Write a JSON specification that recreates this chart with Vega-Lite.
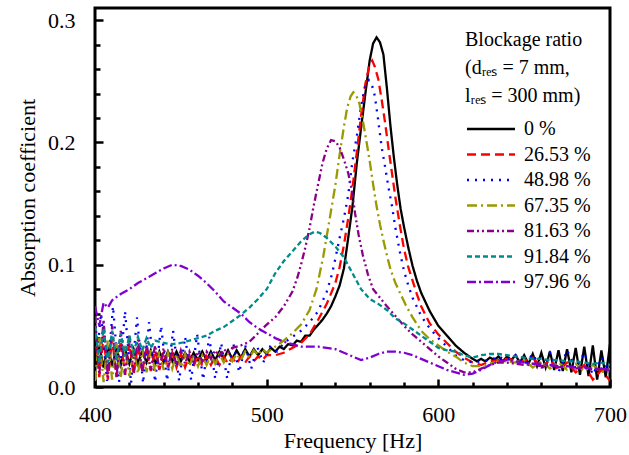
{
"$schema": "https://vega.github.io/schema/vega-lite/v6.json",
"width": 515, "height": 379,
"autosize": {"type": "none"},
"padding": {"left": 95, "top": 8, "right": 19, "bottom": 68},
"background": "white",
"config": {"font": "Liberation Serif", "view": {"stroke": "black", "strokeWidth": 3}},
"data": {"values": [
{"s":"0 %","f":400,"a":0.018},{"s":"0 %","f":402.5,"a":0.034},{"s":"0 %","f":405,"a":0.016},{"s":"0 %","f":407.5,"a":0.033},{"s":"0 %","f":410,"a":0.017},{"s":"0 %","f":412.5,"a":0.032},{"s":"0 %","f":415,"a":0.018},{"s":"0 %","f":417.5,"a":0.031},{"s":"0 %","f":420,"a":0.019},{"s":"0 %","f":422.5,"a":0.031},{"s":"0 %","f":425,"a":0.019},{"s":"0 %","f":427.5,"a":0.030},{"s":"0 %","f":430,"a":0.020},{"s":"0 %","f":432.5,"a":0.030},{"s":"0 %","f":435,"a":0.019},{"s":"0 %","f":437.5,"a":0.029},{"s":"0 %","f":440,"a":0.020},{"s":"0 %","f":442.5,"a":0.029},{"s":"0 %","f":445,"a":0.021},{"s":"0 %","f":447.5,"a":0.029},{"s":"0 %","f":450,"a":0.021},{"s":"0 %","f":452.5,"a":0.028},{"s":"0 %","f":455,"a":0.021},{"s":"0 %","f":457.5,"a":0.028},{"s":"0 %","f":460,"a":0.022},{"s":"0 %","f":462.5,"a":0.029},{"s":"0 %","f":465,"a":0.022},{"s":"0 %","f":467.5,"a":0.029},{"s":"0 %","f":470,"a":0.022},{"s":"0 %","f":472.5,"a":0.029},{"s":"0 %","f":475,"a":0.023},{"s":"0 %","f":477.5,"a":0.030},{"s":"0 %","f":480,"a":0.023},{"s":"0 %","f":482.5,"a":0.030},{"s":"0 %","f":485,"a":0.024},{"s":"0 %","f":487.5,"a":0.031},{"s":"0 %","f":490,"a":0.025},{"s":"0 %","f":492.5,"a":0.031},{"s":"0 %","f":495,"a":0.026},{"s":"0 %","f":497.5,"a":0.031},{"s":"0 %","f":500,"a":0.027},{"s":"0 %","f":502.5,"a":0.032},{"s":"0 %","f":505,"a":0.029},{"s":"0 %","f":507.5,"a":0.033},{"s":"0 %","f":510,"a":0.031},{"s":"0 %","f":512.5,"a":0.035},{"s":"0 %","f":515,"a":0.034},{"s":"0 %","f":517.5,"a":0.038},{"s":"0 %","f":520,"a":0.037},{"s":"0 %","f":522.5,"a":0.042},{"s":"0 %","f":525,"a":0.042},{"s":"0 %","f":527.5,"a":0.047},{"s":"0 %","f":530,"a":0.051},{"s":"0 %","f":532.5,"a":0.055},{"s":"0 %","f":535,"a":0.060},{"s":"0 %","f":537.5,"a":0.066},{"s":"0 %","f":540,"a":0.074},{"s":"0 %","f":542.5,"a":0.083},{"s":"0 %","f":545,"a":0.097},{"s":"0 %","f":547.5,"a":0.122},{"s":"0 %","f":550,"a":0.148},{"s":"0 %","f":552.5,"a":0.183},{"s":"0 %","f":555,"a":0.212},{"s":"0 %","f":557.5,"a":0.240},{"s":"0 %","f":560,"a":0.267},{"s":"0 %","f":562,"a":0.281},{"s":"0 %","f":564,"a":0.286},{"s":"0 %","f":566,"a":0.282},{"s":"0 %","f":568,"a":0.272},{"s":"0 %","f":570,"a":0.245},{"s":"0 %","f":572,"a":0.215},{"s":"0 %","f":574,"a":0.189},{"s":"0 %","f":576,"a":0.166},{"s":"0 %","f":578,"a":0.146},{"s":"0 %","f":580,"a":0.131},{"s":"0 %","f":582.5,"a":0.114},{"s":"0 %","f":585,"a":0.099},{"s":"0 %","f":587.5,"a":0.087},{"s":"0 %","f":590,"a":0.077},{"s":"0 %","f":595,"a":0.062},{"s":"0 %","f":600,"a":0.050},{"s":"0 %","f":605,"a":0.042},{"s":"0 %","f":610,"a":0.034},{"s":"0 %","f":615,"a":0.028},{"s":"0 %","f":620,"a":0.023},{"s":"0 %","f":622.5,"a":0.021},{"s":"0 %","f":625,"a":0.023},{"s":"0 %","f":627.5,"a":0.021},{"s":"0 %","f":630,"a":0.024},{"s":"0 %","f":632.5,"a":0.022},{"s":"0 %","f":635,"a":0.025},{"s":"0 %","f":637.5,"a":0.021},{"s":"0 %","f":640,"a":0.025},{"s":"0 %","f":642.5,"a":0.022},{"s":"0 %","f":645,"a":0.026},{"s":"0 %","f":647.5,"a":0.020},{"s":"0 %","f":650,"a":0.026},{"s":"0 %","f":652.5,"a":0.019},{"s":"0 %","f":655,"a":0.027},{"s":"0 %","f":657.5,"a":0.017},{"s":"0 %","f":660,"a":0.028},{"s":"0 %","f":662.5,"a":0.016},{"s":"0 %","f":665,"a":0.029},{"s":"0 %","f":667.5,"a":0.014},{"s":"0 %","f":670,"a":0.030},{"s":"0 %","f":672.5,"a":0.013},{"s":"0 %","f":675,"a":0.031},{"s":"0 %","f":677.5,"a":0.012},{"s":"0 %","f":680,"a":0.032},{"s":"0 %","f":682.5,"a":0.010},{"s":"0 %","f":685,"a":0.033},{"s":"0 %","f":687.5,"a":0.009},{"s":"0 %","f":690,"a":0.034},{"s":"0 %","f":692.5,"a":0.006},{"s":"0 %","f":695,"a":0.030},{"s":"0 %","f":697.5,"a":0.008},{"s":"0 %","f":700,"a":0.035},

{"s":"26.53 %","f":400,"a":0.045},{"s":"26.53 %","f":402.5,"a":0.008},{"s":"26.53 %","f":405,"a":0.042},{"s":"26.53 %","f":407.5,"a":0.006},{"s":"26.53 %","f":410,"a":0.040},{"s":"26.53 %","f":412.5,"a":0.008},{"s":"26.53 %","f":415,"a":0.038},{"s":"26.53 %","f":417.5,"a":0.010},{"s":"26.53 %","f":420,"a":0.036},{"s":"26.53 %","f":422.5,"a":0.010},{"s":"26.53 %","f":425,"a":0.034},{"s":"26.53 %","f":427.5,"a":0.012},{"s":"26.53 %","f":430,"a":0.032},{"s":"26.53 %","f":432.5,"a":0.013},{"s":"26.53 %","f":435,"a":0.030},{"s":"26.53 %","f":437.5,"a":0.014},{"s":"26.53 %","f":440,"a":0.029},{"s":"26.53 %","f":442.5,"a":0.015},{"s":"26.53 %","f":445,"a":0.028},{"s":"26.53 %","f":447.5,"a":0.016},{"s":"26.53 %","f":450,"a":0.027},{"s":"26.53 %","f":452.5,"a":0.016},{"s":"26.53 %","f":455,"a":0.026},{"s":"26.53 %","f":457.5,"a":0.017},{"s":"26.53 %","f":460,"a":0.026},{"s":"26.53 %","f":462.5,"a":0.017},{"s":"26.53 %","f":465,"a":0.025},{"s":"26.53 %","f":467.5,"a":0.018},{"s":"26.53 %","f":470,"a":0.025},{"s":"26.53 %","f":472.5,"a":0.018},{"s":"26.53 %","f":475,"a":0.025},{"s":"26.53 %","f":477.5,"a":0.019},{"s":"26.53 %","f":480,"a":0.024},{"s":"26.53 %","f":482.5,"a":0.019},{"s":"26.53 %","f":485,"a":0.025},{"s":"26.53 %","f":487.5,"a":0.020},{"s":"26.53 %","f":490,"a":0.025},{"s":"26.53 %","f":492.5,"a":0.021},{"s":"26.53 %","f":495,"a":0.025},{"s":"26.53 %","f":497.5,"a":0.022},{"s":"26.53 %","f":500,"a":0.026},{"s":"26.53 %","f":505,"a":0.026},{"s":"26.53 %","f":510,"a":0.028},{"s":"26.53 %","f":515,"a":0.032},{"s":"26.53 %","f":520,"a":0.036},{"s":"26.53 %","f":525,"a":0.043},{"s":"26.53 %","f":530,"a":0.055},{"s":"26.53 %","f":535,"a":0.068},{"s":"26.53 %","f":540,"a":0.085},{"s":"26.53 %","f":542.5,"a":0.098},{"s":"26.53 %","f":545,"a":0.116},{"s":"26.53 %","f":547.5,"a":0.138},{"s":"26.53 %","f":550,"a":0.163},{"s":"26.53 %","f":552.5,"a":0.192},{"s":"26.53 %","f":555,"a":0.222},{"s":"26.53 %","f":557.5,"a":0.248},{"s":"26.53 %","f":560,"a":0.264},{"s":"26.53 %","f":561.5,"a":0.267},{"s":"26.53 %","f":563,"a":0.262},{"s":"26.53 %","f":565,"a":0.252},{"s":"26.53 %","f":567,"a":0.235},{"s":"26.53 %","f":569,"a":0.216},{"s":"26.53 %","f":571,"a":0.195},{"s":"26.53 %","f":573,"a":0.175},{"s":"26.53 %","f":575,"a":0.155},{"s":"26.53 %","f":577.5,"a":0.133},{"s":"26.53 %","f":580,"a":0.113},{"s":"26.53 %","f":582.5,"a":0.098},{"s":"26.53 %","f":585,"a":0.087},{"s":"26.53 %","f":587.5,"a":0.076},{"s":"26.53 %","f":590,"a":0.066},{"s":"26.53 %","f":595,"a":0.052},{"s":"26.53 %","f":600,"a":0.043},{"s":"26.53 %","f":605,"a":0.036},{"s":"26.53 %","f":610,"a":0.029},{"s":"26.53 %","f":615,"a":0.024},{"s":"26.53 %","f":620,"a":0.020},{"s":"26.53 %","f":625,"a":0.018},{"s":"26.53 %","f":630,"a":0.021},{"s":"26.53 %","f":635,"a":0.022},{"s":"26.53 %","f":640,"a":0.023},{"s":"26.53 %","f":645,"a":0.022},{"s":"26.53 %","f":650,"a":0.021},{"s":"26.53 %","f":655,"a":0.024},{"s":"26.53 %","f":660,"a":0.016},{"s":"26.53 %","f":665,"a":0.022},{"s":"26.53 %","f":670,"a":0.014},{"s":"26.53 %","f":675,"a":0.020},{"s":"26.53 %","f":680,"a":0.012},{"s":"26.53 %","f":685,"a":0.018},{"s":"26.53 %","f":690,"a":0.006},{"s":"26.53 %","f":695,"a":0.014},{"s":"26.53 %","f":700,"a":0.005},

{"s":"48.98 %","f":400,"a":0.010},{"s":"48.98 %","f":403.5,"a":0.060},{"s":"48.98 %","f":407,"a":0.005},{"s":"48.98 %","f":410.5,"a":0.066},{"s":"48.98 %","f":414,"a":0.004},{"s":"48.98 %","f":417.5,"a":0.062},{"s":"48.98 %","f":421,"a":0.003},{"s":"48.98 %","f":424.5,"a":0.057},{"s":"48.98 %","f":428,"a":0.003},{"s":"48.98 %","f":431.5,"a":0.053},{"s":"48.98 %","f":435,"a":0.004},{"s":"48.98 %","f":438.5,"a":0.050},{"s":"48.98 %","f":442,"a":0.005},{"s":"48.98 %","f":445.5,"a":0.046},{"s":"48.98 %","f":449,"a":0.005},{"s":"48.98 %","f":452.5,"a":0.041},{"s":"48.98 %","f":456,"a":0.006},{"s":"48.98 %","f":459.5,"a":0.043},{"s":"48.98 %","f":463,"a":0.006},{"s":"48.98 %","f":466.5,"a":0.041},{"s":"48.98 %","f":470,"a":0.007},{"s":"48.98 %","f":473.5,"a":0.036},{"s":"48.98 %","f":477,"a":0.007},{"s":"48.98 %","f":480.5,"a":0.036},{"s":"48.98 %","f":484,"a":0.012},{"s":"48.98 %","f":487.5,"a":0.034},{"s":"48.98 %","f":491,"a":0.015},{"s":"48.98 %","f":494.5,"a":0.033},{"s":"48.98 %","f":498,"a":0.020},{"s":"48.98 %","f":502,"a":0.033},{"s":"48.98 %","f":506,"a":0.029},{"s":"48.98 %","f":510,"a":0.036},{"s":"48.98 %","f":515,"a":0.041},{"s":"48.98 %","f":520,"a":0.046},{"s":"48.98 %","f":525,"a":0.053},{"s":"48.98 %","f":530,"a":0.062},{"s":"48.98 %","f":535,"a":0.078},{"s":"48.98 %","f":538,"a":0.092},{"s":"48.98 %","f":540,"a":0.105},{"s":"48.98 %","f":542.5,"a":0.122},{"s":"48.98 %","f":545,"a":0.138},{"s":"48.98 %","f":547.5,"a":0.157},{"s":"48.98 %","f":550,"a":0.185},{"s":"48.98 %","f":552.5,"a":0.205},{"s":"48.98 %","f":555,"a":0.230},{"s":"48.98 %","f":557.5,"a":0.247},{"s":"48.98 %","f":559.5,"a":0.251},{"s":"48.98 %","f":561.5,"a":0.246},{"s":"48.98 %","f":563,"a":0.238},{"s":"48.98 %","f":565,"a":0.218},{"s":"48.98 %","f":567,"a":0.196},{"s":"48.98 %","f":569,"a":0.180},{"s":"48.98 %","f":571,"a":0.163},{"s":"48.98 %","f":573,"a":0.148},{"s":"48.98 %","f":575,"a":0.130},{"s":"48.98 %","f":577.5,"a":0.111},{"s":"48.98 %","f":580,"a":0.095},{"s":"48.98 %","f":582.5,"a":0.083},{"s":"48.98 %","f":585,"a":0.073},{"s":"48.98 %","f":590,"a":0.058},{"s":"48.98 %","f":595,"a":0.048},{"s":"48.98 %","f":600,"a":0.040},{"s":"48.98 %","f":605,"a":0.033},{"s":"48.98 %","f":610,"a":0.026},{"s":"48.98 %","f":615,"a":0.022},{"s":"48.98 %","f":620,"a":0.020},{"s":"48.98 %","f":625,"a":0.021},{"s":"48.98 %","f":630,"a":0.022},{"s":"48.98 %","f":635,"a":0.025},{"s":"48.98 %","f":640,"a":0.022},{"s":"48.98 %","f":645,"a":0.026},{"s":"48.98 %","f":650,"a":0.018},{"s":"48.98 %","f":655,"a":0.027},{"s":"48.98 %","f":660,"a":0.014},{"s":"48.98 %","f":665,"a":0.028},{"s":"48.98 %","f":670,"a":0.012},{"s":"48.98 %","f":675,"a":0.030},{"s":"48.98 %","f":680,"a":0.015},{"s":"48.98 %","f":685,"a":0.028},{"s":"48.98 %","f":690,"a":0.010},{"s":"48.98 %","f":695,"a":0.024},{"s":"48.98 %","f":700,"a":0.012},

{"s":"67.35 %","f":400,"a":0.005},{"s":"67.35 %","f":402.5,"a":0.040},{"s":"67.35 %","f":405,"a":0.004},{"s":"67.35 %","f":407.5,"a":0.038},{"s":"67.35 %","f":410,"a":0.006},{"s":"67.35 %","f":412.5,"a":0.036},{"s":"67.35 %","f":415,"a":0.008},{"s":"67.35 %","f":417.5,"a":0.034},{"s":"67.35 %","f":420,"a":0.009},{"s":"67.35 %","f":422.5,"a":0.032},{"s":"67.35 %","f":425,"a":0.011},{"s":"67.35 %","f":427.5,"a":0.031},{"s":"67.35 %","f":430,"a":0.012},{"s":"67.35 %","f":432.5,"a":0.030},{"s":"67.35 %","f":435,"a":0.013},{"s":"67.35 %","f":437.5,"a":0.029},{"s":"67.35 %","f":440,"a":0.014},{"s":"67.35 %","f":442.5,"a":0.028},{"s":"67.35 %","f":445,"a":0.015},{"s":"67.35 %","f":447.5,"a":0.027},{"s":"67.35 %","f":450,"a":0.016},{"s":"67.35 %","f":452.5,"a":0.027},{"s":"67.35 %","f":455,"a":0.017},{"s":"67.35 %","f":457.5,"a":0.026},{"s":"67.35 %","f":460,"a":0.017},{"s":"67.35 %","f":462.5,"a":0.026},{"s":"67.35 %","f":465,"a":0.018},{"s":"67.35 %","f":467.5,"a":0.026},{"s":"67.35 %","f":470,"a":0.019},{"s":"67.35 %","f":472.5,"a":0.027},{"s":"67.35 %","f":475,"a":0.020},{"s":"67.35 %","f":477.5,"a":0.027},{"s":"67.35 %","f":480,"a":0.021},{"s":"67.35 %","f":482.5,"a":0.027},{"s":"67.35 %","f":485,"a":0.022},{"s":"67.35 %","f":487.5,"a":0.029},{"s":"67.35 %","f":490,"a":0.024},{"s":"67.35 %","f":492.5,"a":0.030},{"s":"67.35 %","f":495,"a":0.026},{"s":"67.35 %","f":497.5,"a":0.031},{"s":"67.35 %","f":500,"a":0.028},{"s":"67.35 %","f":505,"a":0.033},{"s":"67.35 %","f":510,"a":0.038},{"s":"67.35 %","f":515,"a":0.044},{"s":"67.35 %","f":520,"a":0.051},{"s":"67.35 %","f":525,"a":0.063},{"s":"67.35 %","f":529,"a":0.080},{"s":"67.35 %","f":533,"a":0.107},{"s":"67.35 %","f":537,"a":0.140},{"s":"67.35 %","f":540,"a":0.165},{"s":"67.35 %","f":542.5,"a":0.190},{"s":"67.35 %","f":545,"a":0.213},{"s":"67.35 %","f":547,"a":0.229},{"s":"67.35 %","f":549,"a":0.238},{"s":"67.35 %","f":550.5,"a":0.241},{"s":"67.35 %","f":552,"a":0.239},{"s":"67.35 %","f":554,"a":0.232},{"s":"67.35 %","f":556,"a":0.218},{"s":"67.35 %","f":558,"a":0.202},{"s":"67.35 %","f":560,"a":0.185},{"s":"67.35 %","f":562,"a":0.166},{"s":"67.35 %","f":564,"a":0.148},{"s":"67.35 %","f":566,"a":0.133},{"s":"67.35 %","f":568,"a":0.120},{"s":"67.35 %","f":570,"a":0.108},{"s":"67.35 %","f":572,"a":0.097},{"s":"67.35 %","f":575,"a":0.085},{"s":"67.35 %","f":578,"a":0.076},{"s":"67.35 %","f":581,"a":0.067},{"s":"67.35 %","f":585,"a":0.057},{"s":"67.35 %","f":590,"a":0.046},{"s":"67.35 %","f":595,"a":0.039},{"s":"67.35 %","f":600,"a":0.034},{"s":"67.35 %","f":605,"a":0.029},{"s":"67.35 %","f":610,"a":0.025},{"s":"67.35 %","f":615,"a":0.020},{"s":"67.35 %","f":620,"a":0.017},{"s":"67.35 %","f":625,"a":0.017},{"s":"67.35 %","f":630,"a":0.019},{"s":"67.35 %","f":635,"a":0.021},{"s":"67.35 %","f":640,"a":0.021},{"s":"67.35 %","f":645,"a":0.020},{"s":"67.35 %","f":650,"a":0.022},{"s":"67.35 %","f":655,"a":0.016},{"s":"67.35 %","f":660,"a":0.021},{"s":"67.35 %","f":665,"a":0.015},{"s":"67.35 %","f":670,"a":0.020},{"s":"67.35 %","f":675,"a":0.014},{"s":"67.35 %","f":680,"a":0.019},{"s":"67.35 %","f":685,"a":0.013},{"s":"67.35 %","f":690,"a":0.018},{"s":"67.35 %","f":695,"a":0.012},{"s":"67.35 %","f":700,"a":0.015},

{"s":"81.63 %","f":400,"a":0.058},{"s":"81.63 %","f":402.5,"a":0.010},{"s":"81.63 %","f":405,"a":0.055},{"s":"81.63 %","f":407.5,"a":0.008},{"s":"81.63 %","f":410,"a":0.050},{"s":"81.63 %","f":412.5,"a":0.008},{"s":"81.63 %","f":415,"a":0.046},{"s":"81.63 %","f":417.5,"a":0.010},{"s":"81.63 %","f":420,"a":0.042},{"s":"81.63 %","f":422.5,"a":0.012},{"s":"81.63 %","f":425,"a":0.039},{"s":"81.63 %","f":427.5,"a":0.013},{"s":"81.63 %","f":430,"a":0.036},{"s":"81.63 %","f":432.5,"a":0.014},{"s":"81.63 %","f":435,"a":0.034},{"s":"81.63 %","f":437.5,"a":0.015},{"s":"81.63 %","f":440,"a":0.032},{"s":"81.63 %","f":442.5,"a":0.016},{"s":"81.63 %","f":445,"a":0.031},{"s":"81.63 %","f":447.5,"a":0.018},{"s":"81.63 %","f":450,"a":0.030},{"s":"81.63 %","f":452.5,"a":0.019},{"s":"81.63 %","f":455,"a":0.029},{"s":"81.63 %","f":457.5,"a":0.020},{"s":"81.63 %","f":460,"a":0.029},{"s":"81.63 %","f":462.5,"a":0.021},{"s":"81.63 %","f":465,"a":0.029},{"s":"81.63 %","f":467.5,"a":0.023},{"s":"81.63 %","f":470,"a":0.030},{"s":"81.63 %","f":472.5,"a":0.025},{"s":"81.63 %","f":475,"a":0.031},{"s":"81.63 %","f":477.5,"a":0.028},{"s":"81.63 %","f":480,"a":0.032},{"s":"81.63 %","f":485,"a":0.034},{"s":"81.63 %","f":490,"a":0.037},{"s":"81.63 %","f":495,"a":0.044},{"s":"81.63 %","f":500,"a":0.051},{"s":"81.63 %","f":505,"a":0.057},{"s":"81.63 %","f":510,"a":0.066},{"s":"81.63 %","f":515,"a":0.078},{"s":"81.63 %","f":518,"a":0.090},{"s":"81.63 %","f":520,"a":0.100},{"s":"81.63 %","f":522.5,"a":0.114},{"s":"81.63 %","f":525,"a":0.130},{"s":"81.63 %","f":527.5,"a":0.149},{"s":"81.63 %","f":530,"a":0.166},{"s":"81.63 %","f":532.5,"a":0.183},{"s":"81.63 %","f":535,"a":0.195},{"s":"81.63 %","f":537.5,"a":0.202},{"s":"81.63 %","f":540,"a":0.201},{"s":"81.63 %","f":542.5,"a":0.196},{"s":"81.63 %","f":545,"a":0.186},{"s":"81.63 %","f":547.5,"a":0.175},{"s":"81.63 %","f":549.5,"a":0.162},{"s":"81.63 %","f":551.5,"a":0.142},{"s":"81.63 %","f":553.5,"a":0.125},{"s":"81.63 %","f":556,"a":0.108},{"s":"81.63 %","f":559,"a":0.092},{"s":"81.63 %","f":562,"a":0.080},{"s":"81.63 %","f":566,"a":0.073},{"s":"81.63 %","f":570,"a":0.066},{"s":"81.63 %","f":575,"a":0.058},{"s":"81.63 %","f":580,"a":0.050},{"s":"81.63 %","f":585,"a":0.043},{"s":"81.63 %","f":590,"a":0.037},{"s":"81.63 %","f":595,"a":0.031},{"s":"81.63 %","f":600,"a":0.025},{"s":"81.63 %","f":605,"a":0.020},{"s":"81.63 %","f":610,"a":0.015},{"s":"81.63 %","f":615,"a":0.012},{"s":"81.63 %","f":620,"a":0.012},{"s":"81.63 %","f":625,"a":0.015},{"s":"81.63 %","f":630,"a":0.018},{"s":"81.63 %","f":635,"a":0.020},{"s":"81.63 %","f":640,"a":0.020},{"s":"81.63 %","f":645,"a":0.019},{"s":"81.63 %","f":650,"a":0.018},{"s":"81.63 %","f":655,"a":0.019},{"s":"81.63 %","f":660,"a":0.017},{"s":"81.63 %","f":665,"a":0.018},{"s":"81.63 %","f":670,"a":0.016},{"s":"81.63 %","f":675,"a":0.017},{"s":"81.63 %","f":680,"a":0.015},{"s":"81.63 %","f":685,"a":0.016},{"s":"81.63 %","f":690,"a":0.014},{"s":"81.63 %","f":695,"a":0.015},{"s":"81.63 %","f":700,"a":0.013},

{"s":"91.84 %","f":400,"a":0.050},{"s":"91.84 %","f":402.5,"a":0.020},{"s":"91.84 %","f":405,"a":0.048},{"s":"91.84 %","f":407.5,"a":0.020},{"s":"91.84 %","f":410,"a":0.046},{"s":"91.84 %","f":412.5,"a":0.022},{"s":"91.84 %","f":415,"a":0.044},{"s":"91.84 %","f":417.5,"a":0.025},{"s":"91.84 %","f":420,"a":0.042},{"s":"91.84 %","f":422.5,"a":0.028},{"s":"91.84 %","f":425,"a":0.041},{"s":"91.84 %","f":427.5,"a":0.030},{"s":"91.84 %","f":430,"a":0.040},{"s":"91.84 %","f":432.5,"a":0.032},{"s":"91.84 %","f":435,"a":0.038},{"s":"91.84 %","f":440,"a":0.036},{"s":"91.84 %","f":445,"a":0.035},{"s":"91.84 %","f":450,"a":0.036},{"s":"91.84 %","f":455,"a":0.038},{"s":"91.84 %","f":460,"a":0.040},{"s":"91.84 %","f":465,"a":0.042},{"s":"91.84 %","f":470,"a":0.046},{"s":"91.84 %","f":475,"a":0.049},{"s":"91.84 %","f":480,"a":0.054},{"s":"91.84 %","f":485,"a":0.059},{"s":"91.84 %","f":490,"a":0.065},{"s":"91.84 %","f":495,"a":0.072},{"s":"91.84 %","f":500,"a":0.080},{"s":"91.84 %","f":505,"a":0.093},{"s":"91.84 %","f":510,"a":0.103},{"s":"91.84 %","f":515,"a":0.111},{"s":"91.84 %","f":520,"a":0.119},{"s":"91.84 %","f":525,"a":0.125},{"s":"91.84 %","f":528,"a":0.127},{"s":"91.84 %","f":531,"a":0.126},{"s":"91.84 %","f":535,"a":0.122},{"s":"91.84 %","f":540,"a":0.115},{"s":"91.84 %","f":545,"a":0.106},{"s":"91.84 %","f":550,"a":0.093},{"s":"91.84 %","f":555,"a":0.080},{"s":"91.84 %","f":560,"a":0.072},{"s":"91.84 %","f":565,"a":0.068},{"s":"91.84 %","f":570,"a":0.063},{"s":"91.84 %","f":575,"a":0.056},{"s":"91.84 %","f":580,"a":0.052},{"s":"91.84 %","f":585,"a":0.047},{"s":"91.84 %","f":590,"a":0.042},{"s":"91.84 %","f":595,"a":0.037},{"s":"91.84 %","f":600,"a":0.032},{"s":"91.84 %","f":605,"a":0.030},{"s":"91.84 %","f":610,"a":0.029},{"s":"91.84 %","f":615,"a":0.026},{"s":"91.84 %","f":620,"a":0.024},{"s":"91.84 %","f":625,"a":0.026},{"s":"91.84 %","f":630,"a":0.027},{"s":"91.84 %","f":635,"a":0.027},{"s":"91.84 %","f":640,"a":0.026},{"s":"91.84 %","f":645,"a":0.025},{"s":"91.84 %","f":650,"a":0.024},{"s":"91.84 %","f":655,"a":0.023},{"s":"91.84 %","f":660,"a":0.023},{"s":"91.84 %","f":665,"a":0.022},{"s":"91.84 %","f":670,"a":0.022},{"s":"91.84 %","f":675,"a":0.021},{"s":"91.84 %","f":680,"a":0.021},{"s":"91.84 %","f":685,"a":0.020},{"s":"91.84 %","f":690,"a":0.019},{"s":"91.84 %","f":695,"a":0.020},{"s":"91.84 %","f":700,"a":0.018},

{"s":"97.96 %","f":400,"a":0.066},{"s":"97.96 %","f":402.5,"a":0.050},{"s":"97.96 %","f":405,"a":0.069},{"s":"97.96 %","f":407.5,"a":0.065},{"s":"97.96 %","f":410,"a":0.071},{"s":"97.96 %","f":415,"a":0.076},{"s":"97.96 %","f":420,"a":0.080},{"s":"97.96 %","f":425,"a":0.085},{"s":"97.96 %","f":430,"a":0.089},{"s":"97.96 %","f":435,"a":0.093},{"s":"97.96 %","f":440,"a":0.097},{"s":"97.96 %","f":445,"a":0.100},{"s":"97.96 %","f":450,"a":0.099},{"s":"97.96 %","f":455,"a":0.096},{"s":"97.96 %","f":460,"a":0.091},{"s":"97.96 %","f":465,"a":0.085},{"s":"97.96 %","f":470,"a":0.078},{"s":"97.96 %","f":475,"a":0.070},{"s":"97.96 %","f":480,"a":0.065},{"s":"97.96 %","f":485,"a":0.060},{"s":"97.96 %","f":490,"a":0.053},{"s":"97.96 %","f":495,"a":0.048},{"s":"97.96 %","f":500,"a":0.044},{"s":"97.96 %","f":505,"a":0.040},{"s":"97.96 %","f":510,"a":0.037},{"s":"97.96 %","f":515,"a":0.035},{"s":"97.96 %","f":520,"a":0.033},{"s":"97.96 %","f":525,"a":0.033},{"s":"97.96 %","f":530,"a":0.033},{"s":"97.96 %","f":535,"a":0.032},{"s":"97.96 %","f":540,"a":0.031},{"s":"97.96 %","f":545,"a":0.028},{"s":"97.96 %","f":550,"a":0.025},{"s":"97.96 %","f":555,"a":0.022},{"s":"97.96 %","f":560,"a":0.024},{"s":"97.96 %","f":565,"a":0.027},{"s":"97.96 %","f":570,"a":0.029},{"s":"97.96 %","f":575,"a":0.029},{"s":"97.96 %","f":580,"a":0.028},{"s":"97.96 %","f":585,"a":0.026},{"s":"97.96 %","f":590,"a":0.023},{"s":"97.96 %","f":595,"a":0.020},{"s":"97.96 %","f":600,"a":0.017},{"s":"97.96 %","f":605,"a":0.014},{"s":"97.96 %","f":610,"a":0.012},{"s":"97.96 %","f":615,"a":0.010},{"s":"97.96 %","f":620,"a":0.011},{"s":"97.96 %","f":625,"a":0.014},{"s":"97.96 %","f":630,"a":0.018},{"s":"97.96 %","f":635,"a":0.021},{"s":"97.96 %","f":640,"a":0.022},{"s":"97.96 %","f":645,"a":0.021},{"s":"97.96 %","f":650,"a":0.020},{"s":"97.96 %","f":655,"a":0.019},{"s":"97.96 %","f":660,"a":0.019},{"s":"97.96 %","f":665,"a":0.018},{"s":"97.96 %","f":670,"a":0.017},{"s":"97.96 %","f":675,"a":0.017},{"s":"97.96 %","f":680,"a":0.016},{"s":"97.96 %","f":685,"a":0.016},{"s":"97.96 %","f":690,"a":0.015},{"s":"97.96 %","f":695,"a":0.015},{"s":"97.96 %","f":700,"a":0.014}
]},
"mark": {"type": "line", "strokeWidth": 2.3, "clip": true},
"encoding": {
  "x": {"field": "f", "type": "quantitative",
    "scale": {"domain": [400, 700], "nice": false, "zero": false},
    "axis": {"values": [400,420,440,460,480,500,520,540,560,580,600,620,640,660,680,700],
      "labelExpr": "datum.value % 100 === 0 ? datum.label : ''",
      "tickSize": {"condition": {"test": "datum.value % 100 === 0", "value": -8}, "value": -5},
      "tickWidth": 2.5, "tickColor": "black", "domain": false,
      "labelFontSize": 22, "labelColor": "black", "labelPadding": 25, "labelFlush": false, "labelOverlap": false,
      "title": "Frequency [Hz]", "titleFontSize": 22, "titleFontWeight": "normal", "titleColor": "black", "titlePadding": 2, "grid": false}},
  "y": {"field": "a", "type": "quantitative",
    "scale": {"domain": [0, 0.31], "nice": false},
    "axis": {"values": [0,0.02,0.04,0.06,0.08,0.1,0.12,0.14,0.16,0.18,0.2,0.22,0.24,0.26,0.28,0.3],
      "labelExpr": "round(datum.value*100) % 10 === 0 ? format(datum.value, '.1f') : ''",
      "tickSize": {"condition": {"test": "round(datum.value*100) % 10 === 0", "value": -8}, "value": -5},
      "tickWidth": 2.5, "tickColor": "black", "domain": false,
      "labelFontSize": 22, "labelColor": "black", "labelPadding": 28, "labelOverlap": false, "labelFlush": false,
      "title": "Absorption coefficient", "titleFontSize": 22, "titleFontWeight": "normal", "titleColor": "black", "titlePadding": 8, "grid": false}},
  "color": {"field": "s", "type": "nominal",
    "scale": {"domain": ["0 %","26.53 %","48.98 %","67.35 %","81.63 %","91.84 %","97.96 %"],
      "range": ["#000000","#ff0000","#0000ff","#999900","#8b008b","#008b8b","#8000d0"]},
    "legend": {"orient": "none", "legendX": 370, "legendY": 22,
      "title": ["Blockage ratio", "(dᵣₑₛ = 7 mm,", "lᵣₑₛ = 300 mm)"],
      "titleFontSize": 20, "titleFontWeight": "normal", "titleColor": "black", "titleLineHeight": 28, "titlePadding": 13,
      "labelFontSize": 20, "labelColor": "black", "labelOffset": 39,
      "symbolType": "M-1,0L5,0", "symbolSize": 256, "symbolStrokeWidth": 2.5, "rowPadding": 5.5, "padding": 0}},
  "strokeDash": {"field": "s", "type": "nominal",
    "scale": {"domain": ["0 %","26.53 %","48.98 %","67.35 %","81.63 %","91.84 %","97.96 %"],
      "range": [[1,0],[9,5],[2,6],[10,4,2,4],[7,3,2,3,2,3],[5,3],[9,3,2,3]]},
    "legend": {"orient": "none", "legendX": 370, "legendY": 22,
      "title": ["Blockage ratio", "(dᵣₑₛ = 7 mm,", "lᵣₑₛ = 300 mm)"],
      "titleFontSize": 20, "titleFontWeight": "normal", "titleColor": "black", "titleLineHeight": 28, "titlePadding": 13,
      "labelFontSize": 20, "labelColor": "black", "labelOffset": 39,
      "symbolType": "M-1,0L5,0", "symbolSize": 256, "symbolStrokeWidth": 2.5, "rowPadding": 5.5, "padding": 0}}
}
}
